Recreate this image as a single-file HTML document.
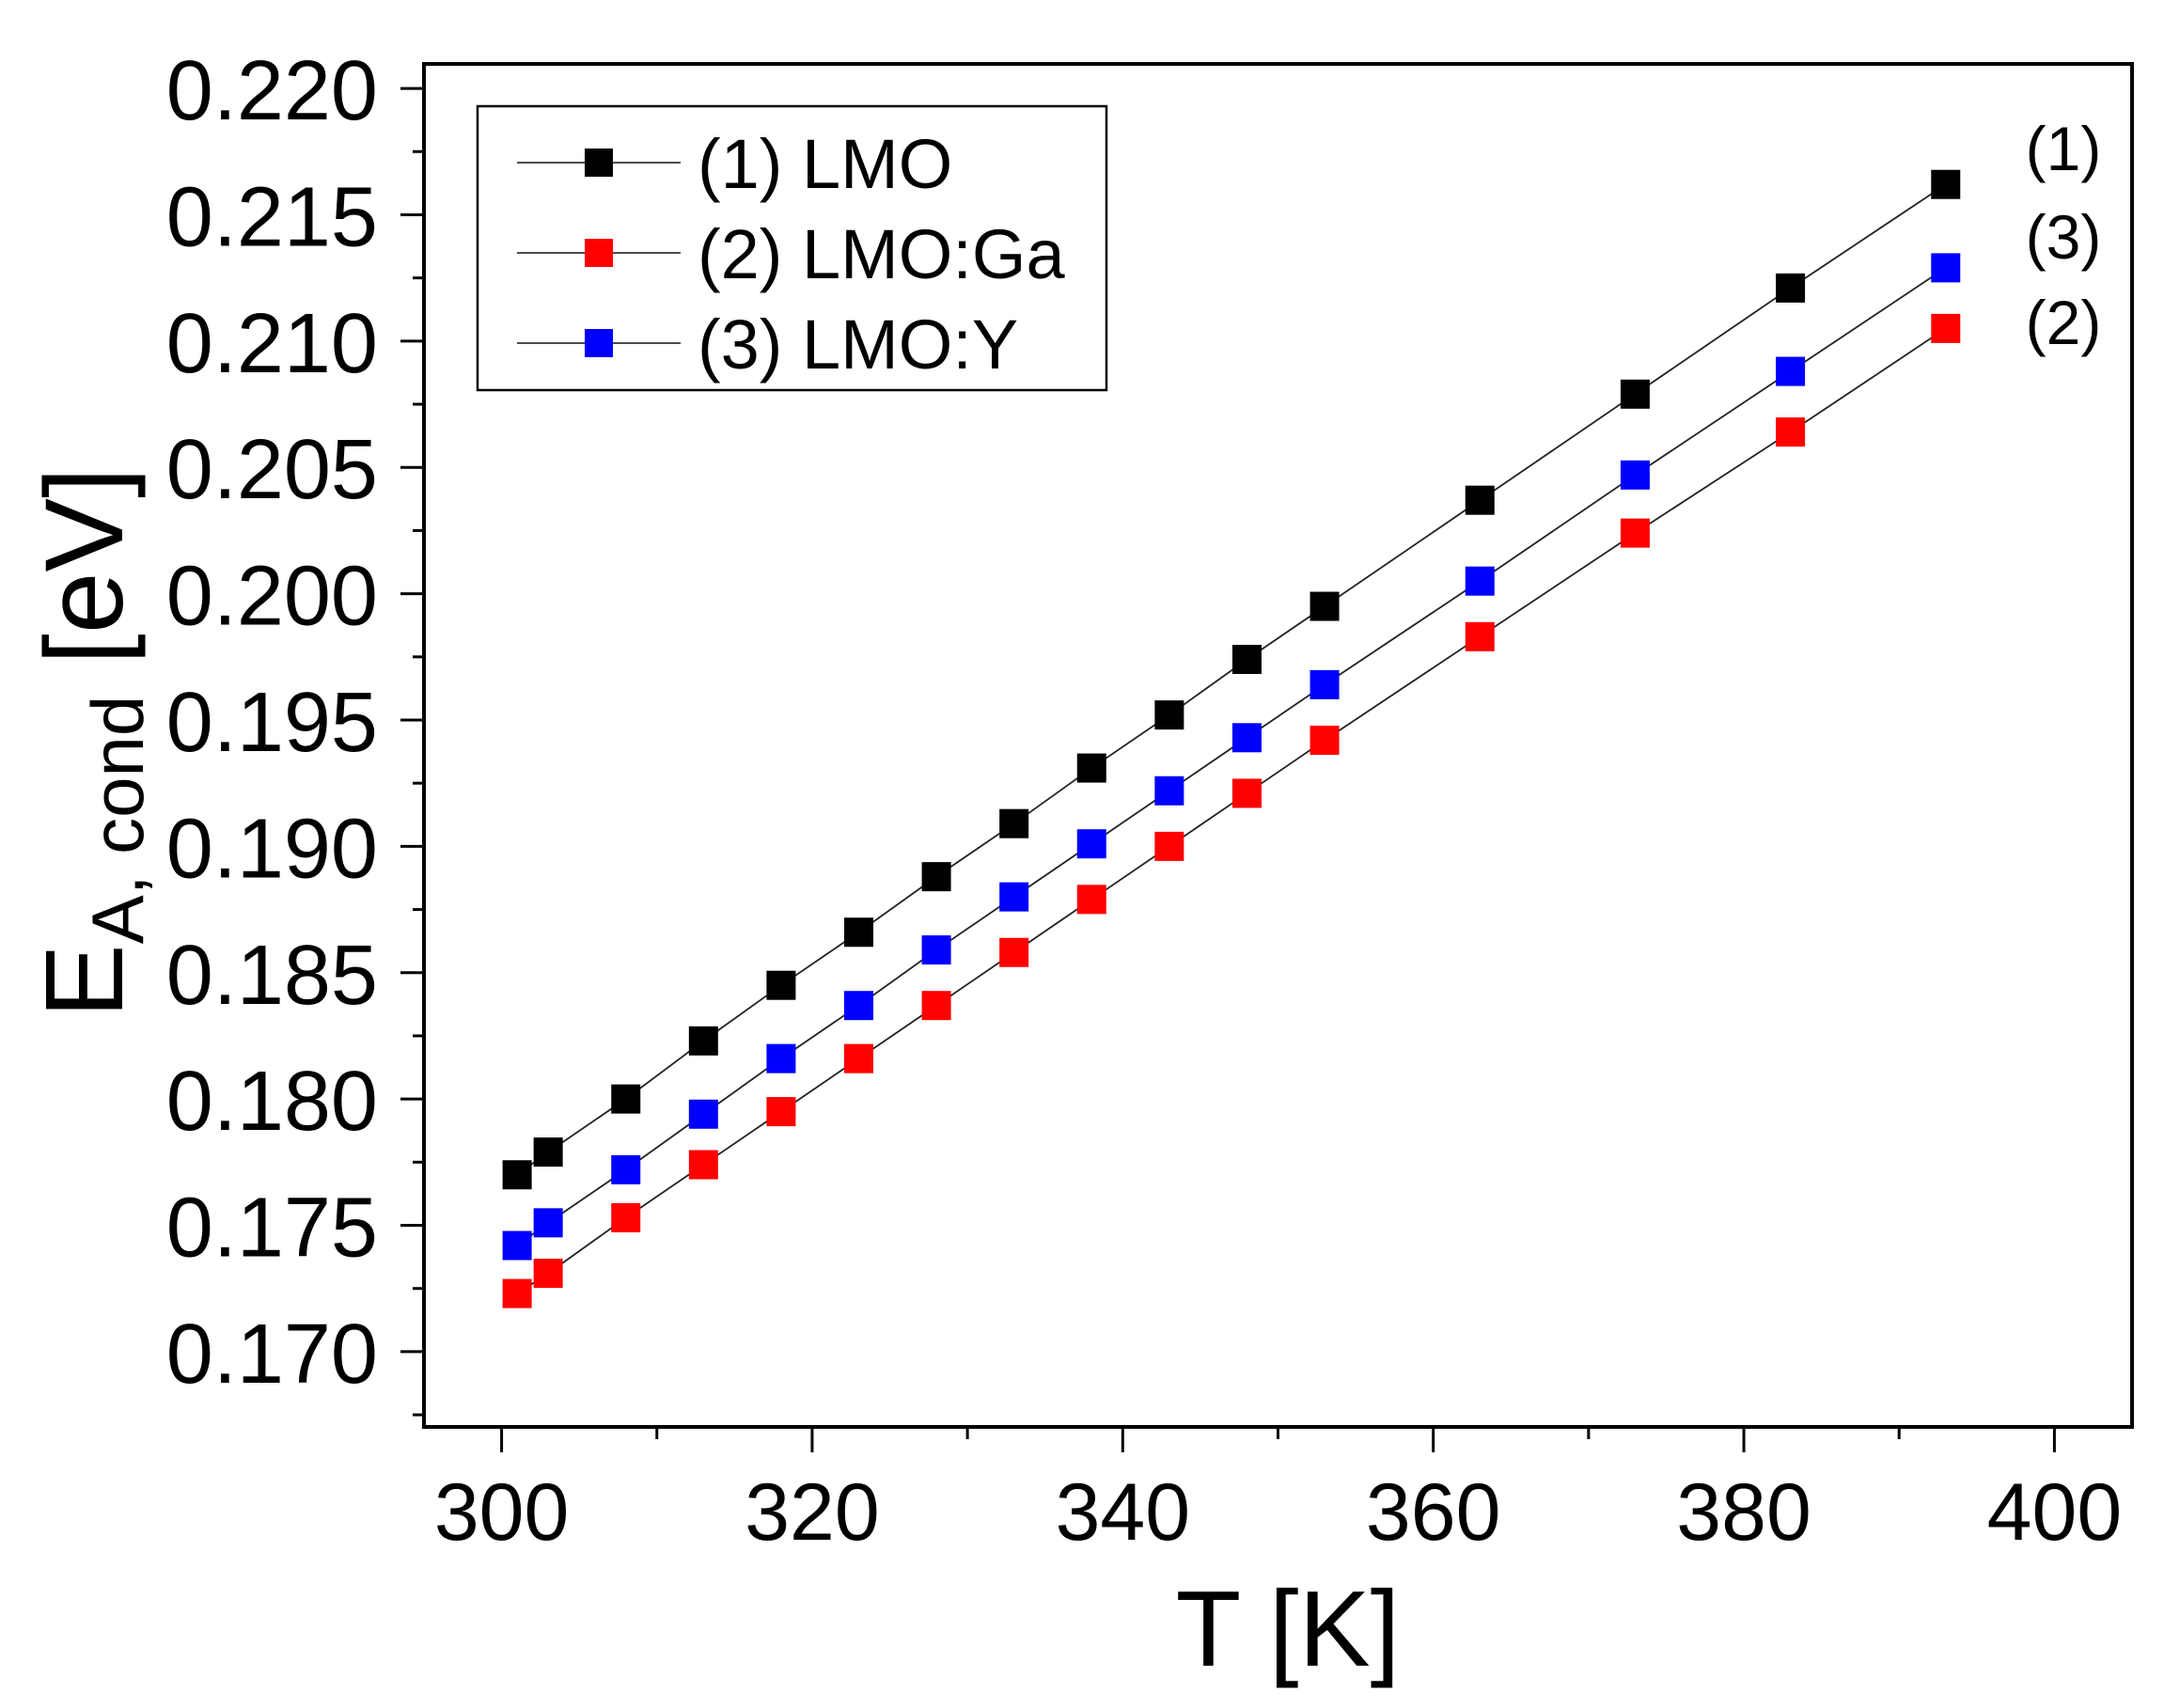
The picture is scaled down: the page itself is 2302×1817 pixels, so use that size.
<!DOCTYPE html>
<html><head><meta charset="utf-8"><style>
html,body{margin:0;padding:0;background:#fff;}
svg{display:block;font-family:"Liberation Sans",Arial,sans-serif;}
</style></head><body>
<svg id="chart" width="2302" height="1817" viewBox="0 0 2302 1817" xmlns="http://www.w3.org/2000/svg">
<g id="axes"></g><g id="series"></g>
</svg>
<script>
const temps = [301,303,308,313,318,323,328,333,338,343,348,353,363,373,383,393];
const lmo   = [0.1770,0.1779,0.1800,0.1823,0.1845,0.1866,0.1888,0.1909,0.1931,0.1952,0.1974,0.1995,0.2037,0.2079,0.2121,0.2162];
const lmoGa = [0.1723,0.1731,0.1753,0.1774,0.1795,0.1816,0.1837,0.1858,0.1879,0.1900,0.1921,0.1942,0.1983,0.2024,0.2064,0.2105];
const lmoY  = [0.1742,0.1751,0.1772,0.1794,0.1816,0.1837,0.1859,0.1880,0.1901,0.1922,0.1943,0.1964,0.2005,0.2047,0.2088,0.2129];
const xTicks = [300,320,340,360,380,400];
const yTicks = ["0.170","0.175","0.180","0.185","0.190","0.195","0.200","0.205","0.210","0.215","0.220"];

const NS="http://www.w3.org/2000/svg";
const L=451,R=2268,T=68,B=1518;
const xMin=295,xMax=405,yMin=0.16702,yMax=0.22097;
const xs=v=>L+(v-xMin)/(xMax-xMin)*(R-L);
const ys=v=>B-(v-yMin)/(yMax-yMin)*(B-T);
function mk(tag,attrs,parent,text){const e=document.createElementNS(NS,tag);for(const k in attrs)e.setAttribute(k,attrs[k]);if(text!==undefined)e.textContent=text;parent.appendChild(e);return e;}
const ax=document.getElementById('axes'), se=document.getElementById('series');

const fr=mk('rect',{x:L,y:T,width:R-L,height:B-T,fill:'none',stroke:'#000','stroke-width':4},ax);



for(let v=300;v<=400;v+=10){
  const major=v%20===0;
  const t=mk('line',{x1:xs(v),x2:xs(v),y1:B,y2:B+(major?27:13),stroke:'#000','stroke-width':3},ax);
  
  
}
xTicks.forEach(v=>{
  const t=mk('text',{x:xs(v),y:1638,'font-size':86,'text-anchor':'middle'},ax,String(v));
  
  
});
for(let i=0;i<=21;i++){
  const v=0.1675+i*0.0025;
  const major=i%2===1;
  const t=mk('line',{x1:L,x2:L-(major?25:12),y1:ys(v),y2:ys(v),stroke:'#000','stroke-width':3},ax);
  
  
}
yTicks.forEach(s=>{
  const t=mk('text',{x:402,y:ys(parseFloat(s))+33,'font-size':90,'text-anchor':'end'},ax,s);
  
  
});
const xt=mk('text',{x:1370,y:1772,'font-size':114,'text-anchor':'middle'},ax,'T [K]');


const yt=mk('text',{transform:'translate(130,790) rotate(-90)','font-size':118,'text-anchor':'middle'},ax);


mk('tspan',{},yt,'E');
mk('tspan',{'font-size':78,dy:22},yt,'A, cond');
mk('tspan',{dy:-22},yt,' [eV]');

const seriesList=[[lmo,'#000','lmo'],[lmoGa,'#f00','lmo-ga'],[lmoY,'#00f','lmo-y']];
const S=31;
seriesList.forEach(([vals,col,nm])=>{
  const pts=temps.map((t,i)=>xs(t)+','+ys(vals[i])).join(' ');
  const pl=mk('polyline',{points:pts,fill:'none',stroke:'#222','stroke-width':1.8},se);
  
  
  temps.forEach((t,i)=>{
    const r=mk('rect',{x:xs(t)-S/2,y:ys(vals[i])-S/2,width:S,height:S,fill:col},se);
    
    
  });
});

const lg=mk('g',{},ax);


mk('rect',{x:508,y:113,width:669,height:302,fill:'#fff',stroke:'#000','stroke-width':2.5},lg);
const labels=['(1) LMO','(2) LMO:Ga','(3) LMO:Y'];
seriesList.forEach(([v,col,nm],i)=>{
  const y=173+i*96;
  const e=mk('g',{},lg);
  
  
  mk('line',{x1:550,x2:724,y1:y,y2:y,stroke:'#333','stroke-width':1.8},e);
  mk('rect',{x:622,y:y-15,width:30,height:30,fill:col},e);
  mk('text',{x:742,y:y+27,'font-size':74},e,labels[i]);
});
[['(1)',158],['(3)',252],['(2)',343]].forEach(([s,y])=>{
  const t=mk('text',{x:2195,y:y+23,'font-size':66,'text-anchor':'middle'},ax,s);
  
  
});
</script>
</body></html>
